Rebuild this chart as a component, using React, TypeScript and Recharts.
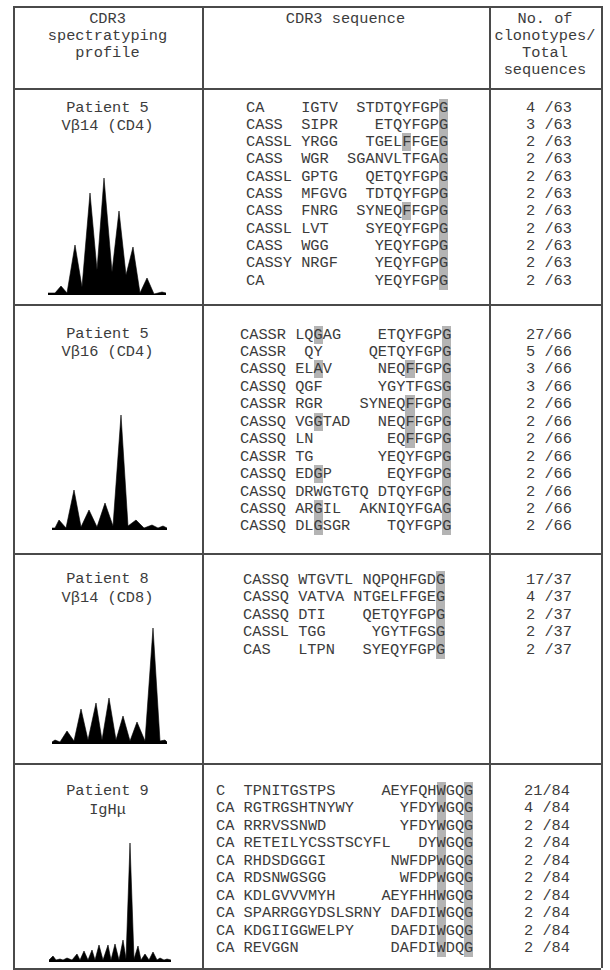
import React from 'react';
import { AreaChart, Area, XAxis, YAxis } from 'recharts';

// spectratyping traces: x = offset along the size axis, y = signal (valley / peak / valley ...)
const P1_X = [0, 7, 13, 19, 27, 34, 42, 49, 56, 64, 71, 78, 85, 92, 99, 106, 114, 118];
const P1_Y = [2, 2, 9, 2, 50, 8, 102, 25, 117, 23, 84, 20, 48, 2, 17, 1, 3, 2];

const P2_X = [0, 3, 7, 14, 22, 29, 37, 45, 53, 61, 69, 76, 84, 92, 100, 106, 111, 115];
const P2_Y = [2, 2, 10, 2, 40, 3, 20, 3, 27, 4, 115, 4, 10, 2, 5, 2, 4, 2];

const P3_X = [0, 3, 8, 15, 22, 29, 36, 44, 50, 57, 64, 71, 78, 85, 93, 101, 108, 113, 115];
const P3_Y = [2, 4, 2, 13, 3, 35, 4, 41, 4, 46, 4, 28, 3, 22, 3, 116, 3, 4, 2];

const P4_X = [0, 4, 7, 11, 14, 18, 23, 28, 31, 35, 39, 43, 46, 50, 54, 59, 62, 66, 70, 74, 77, 81, 85, 89, 92, 96, 100, 104, 108, 111, 115, 118, 122];
const P4_Y = [2, 6, 2, 3, 2, 4, 2, 8, 2, 11, 2, 12, 2, 17, 2, 17, 2, 18, 2, 22, 3, 119, 3, 16, 2, 8, 2, 10, 2, 4, 2, 3, 2];

// row labels
const LABELS = [
  ['Patient 5', 'Vβ14 (CD4)'],
  ['Patient 5', 'Vβ16 (CD4)'],
  ['Patient 8', 'Vβ14 (CD8)'],
  ['Patient 9', 'IgHμ'],
];

// CDR3 sequences, three parts each; [X] marks a shaded residue
const R1_A = ['CA', 'CASS', 'CASSL', 'CASS', 'CASSL', 'CASS', 'CASS', 'CASSL', 'CASS', 'CASSY', 'CA'];
const R1_B = ['IGTV', 'SIPR', 'YRGG', 'WGR', 'GPTG', 'MFGVG', 'FNRG', 'LVT', 'WGG', 'NRGF', ''];
const R1_C = ['STDTQYFGP[G]', 'ETQYFGP[G]', 'TGEL[F]FGE[G]', 'SGANVLTFGA[G]', 'QETQYFGP[G]', 'TDTQYFGP[G]', 'SYNEQ[F]FGP[G]', 'SYEQYFGP[G]', 'YEQYFGP[G]', 'YEQYFGP[G]', 'YEQYFGP[G]'];
const R1_N = [4, 3, 2, 2, 2, 2, 2, 2, 2, 2, 2];
const R1_TOTAL = 63;

const R2_A = ['CASSR', 'CASSR', 'CASSQ', 'CASSQ', 'CASSR', 'CASSQ', 'CASSQ', 'CASSR', 'CASSQ', 'CASSQ', 'CASSQ', 'CASSQ'];
const R2_B = ['LQ[G]AG', ' QY', 'EL[A]V', 'QGF', 'RGR', 'VG[G]TAD', 'LN', 'TG', 'ED[G]P', 'DRWGTGTQ', 'AR[G]IL', 'DL[G]SGR'];
const R2_C = ['ETQYFGP[G]', 'QETQYFGP[G]', 'NEQ[F]FGP[G]', 'YGYTFGS[G]', 'SYNEQ[F]FGP[G]', 'NEQ[F]FGP[G]', 'EQ[F]FGP[G]', 'YEQYFGP[G]', 'EQYFGP[G]', 'DTQYFGP[G]', 'AKNIQYFGA[G]', 'TQYFGP[G]'];
const R2_N = [27, 5, 3, 3, 2, 2, 2, 2, 2, 2, 2, 2];
const R2_TOTAL = 66;

const R3_A = ['CASSQ', 'CASSQ', 'CASSQ', 'CASSL', 'CAS'];
const R3_B = ['WTGVTL', 'VATVA', 'DTI', 'TGG', 'LTPN'];
const R3_C = ['NQPQHFGD[G]', 'NTGELFFGE[G]', 'QETQYFGP[G]', 'YGYTFGS[G]', 'SYEQYFGP[G]'];
const R3_N = [17, 4, 2, 2, 2];
const R3_TOTAL = 37;

const R4_A = ['C', 'CA', 'CA', 'CA', 'CA', 'CA', 'CA', 'CA', 'CA', 'CA'];
const R4_B = ['TPNITGSTPS', 'RGTRGSHTNYWY', 'RRRVSSNWD', 'RETEILYCSSTSCYFL', 'RHDSDGGGI', 'RDSNWGSGG', 'KDLGVVVMYH', 'SPARRGGYDSLSRNY', 'KDGIIGGWELPY', 'REVGGN'];
const R4_C = ['AEYFQH[W]GQ[G]', 'YFDY[W]GQ[G]', 'YFDY[W]GQ[G]', 'DY[W]GQ[G]', 'NWFDP[W]GQ[G]', 'WFDP[W]GQ[G]', 'AEYFHH[W]GQ[G]', 'DAFDI[W]GQ[G]', 'DAFDI[W]GQ[G]', 'DAFDI[W]DQ[G]'];
const R4_N = [21, 4, 2, 2, 2, 2, 2, 2, 2, 2];
const R4_TOTAL = 84;

const FONT = '"Liberation Mono", "DejaVu Sans Mono", monospace';
const INK = '#3c3c3c';
const SHADE = '#b4b4b4';
const FS = 15.3;
const LH = 17;

const COLS = [13, 202, 489, 601];
const ROWS = [6, 88, 304, 553, 763, 968];

const strip = (s: string) => s.replace(/[\[\]]/g, '');

function Line({ text, x, cy }: { text: string; x: number; cy: number }) {
  const parts: { t: string; hl: boolean }[] = [];
  let hl = false;
  for (const ch of text) {
    if (ch === '[') { hl = true; continue; }
    if (ch === ']') { hl = false; continue; }
    parts.push({ t: ch, hl });
  }
  return (
    <div style={{ position: 'absolute', left: x, top: cy - LH / 2, whiteSpace: 'pre', lineHeight: `${LH}px`, height: LH }}>
      {parts.map((p, i) => (
        <span key={i} style={p.hl ? { background: SHADE } : undefined}>{p.t}</span>
      ))}
    </div>
  );
}

function SeqBlock(props: {
  a: string[]; b: string[]; c: string[]; n: number[]; total: number;
  aw: number; width: number; x: number; y: number; step: number; nx: number;
}) {
  const { a, b, c, n, total, aw, width, x, y, step, nx } = props;
  return (
    <>
      {a.map((head, i) => {
        const left = head.padEnd(aw) + b[i];
        const gap = Math.max(1, width - strip(left).length - strip(c[i]).length);
        const text = left + ' '.repeat(gap) + c[i];
        const count = String(n[i]).padEnd(2) + '/' + total;
        return (
          <React.Fragment key={i}>
            <Line text={text} x={x} cy={y + i * step} />
            <Line text={count} x={nx} cy={y + i * step} />
          </React.Fragment>
        );
      })}
    </>
  );
}

function Profile({ xs, ys, left, base, span, height }: {
  xs: number[]; ys: number[]; left: number; base: number; span: number; height: number;
}) {
  const data = xs.map((x, i) => ({ x, y: ys[i] }));
  return (
    <div style={{ position: 'absolute', left, top: base - height }}>
      <AreaChart width={span} height={height} data={data} margin={{ top: 0, right: 0, bottom: 0, left: 0 }}>
        <XAxis dataKey="x" type="number" domain={[0, span]} hide />
        <YAxis type="number" domain={[0, height]} hide />
        <Area
          type="linear"
          dataKey="y"
          stroke="#000"
          strokeWidth={0.6}
          fill="#000"
          fillOpacity={1}
          dot={false}
          activeDot={false}
          isAnimationActive={false}
        />
      </AreaChart>
    </div>
  );
}

function Centered({ text, cx, cy }: { text: string; cx: number; cy: number }) {
  return (
    <div style={{ position: 'absolute', left: cx - 100, width: 200, top: cy - LH / 2, textAlign: 'center', whiteSpace: 'pre', lineHeight: `${LH}px` }}>
      {text}
    </div>
  );
}

export default function App() {
  const line = '#4a4a4a';
  const hLines = ROWS.map((y, i) => (
    <div key={`h${i}`} style={{ position: 'absolute', left: COLS[0], top: y, width: COLS[3] - COLS[0], height: 1.5, background: line }} />
  ));
  const vLines = COLS.map((x, i) => (
    <div key={`v${i}`} style={{ position: 'absolute', left: x, top: ROWS[0], width: 1.5, height: ROWS[5] - ROWS[0], background: line }} />
  ));
  const c1 = (COLS[0] + COLS[1]) / 2;
  const c2 = (COLS[1] + COLS[2]) / 2;
  const c3 = (COLS[2] + COLS[3]) / 2;
  const labelY = [[108, 126], [334, 352], [579, 598], [791, 810]];

  return (
    <div style={{ position: 'absolute', left: 0, top: 0, width: 610, height: 970, background: '#fff', fontFamily: FONT, fontSize: FS, color: INK, overflow: 'hidden' }}>
      {hLines}
      {vLines}

      <Centered text="CDR3" cx={c1} cy={19} />
      <Centered text="spectratyping" cx={c1} cy={36} />
      <Centered text="profile" cx={c1} cy={53} />
      <Centered text="CDR3 sequence" cx={c2} cy={19} />
      <Centered text="No. of" cx={c3} cy={19} />
      <Centered text="clonotypes/" cx={c3} cy={36} />
      <Centered text="Total" cx={c3} cy={53} />
      <Centered text="sequences" cx={c3} cy={70} />

      {LABELS.map((l, i) => (
        <React.Fragment key={i}>
          <Centered text={l[0]} cx={c1} cy={labelY[i][0]} />
          <Centered text={l[1]} cx={c1} cy={labelY[i][1]} />
        </React.Fragment>
      ))}

      <Profile xs={P1_X} ys={P1_Y} left={48} base={295} span={118} height={125} />
      <Profile xs={P2_X} ys={P2_Y} left={52} base={530} span={115} height={125} />
      <Profile xs={P3_X} ys={P3_Y} left={52} base={744} span={115} height={125} />
      <Profile xs={P4_X} ys={P4_Y} left={49} base={962} span={122} height={125} />

      <SeqBlock a={R1_A} b={R1_B} c={R1_C} n={R1_N} total={R1_TOTAL} aw={6} width={22} x={246} y={108} step={17.3} nx={526} />
      <SeqBlock a={R2_A} b={R2_B} c={R2_C} n={R2_N} total={R2_TOTAL} aw={6} width={23} x={240} y={335} step={17.45} nx={526} />
      <SeqBlock a={R3_A} b={R3_B} c={R3_C} n={R3_N} total={R3_TOTAL} aw={6} width={22} x={243} y={580} step={17.5} nx={526} />
      <SeqBlock a={R4_A} b={R4_B} c={R4_C} n={R4_N} total={R4_TOTAL} aw={3} width={28} x={216} y={791} step={17.55} nx={524} />
    </div>
  );
}
